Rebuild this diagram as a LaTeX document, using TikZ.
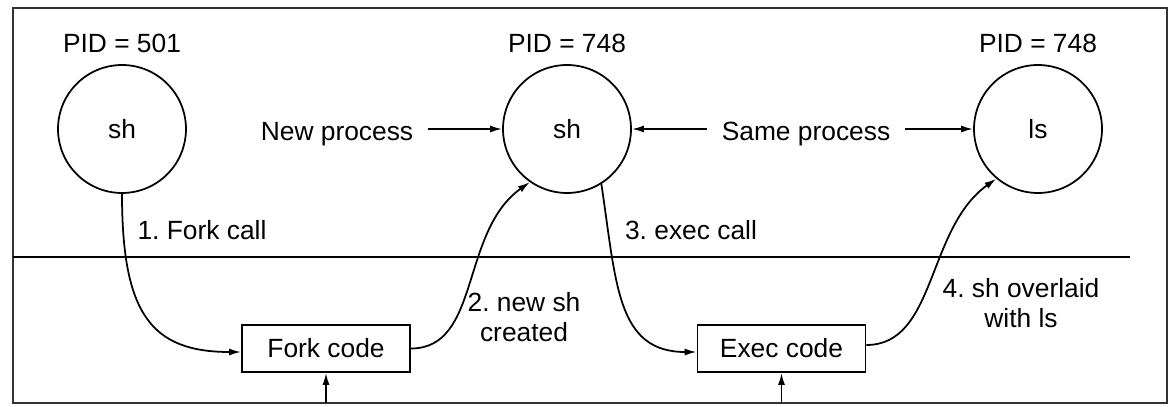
\documentclass[tikz,border=0pt]{standalone}
\usepackage{fontspec}
\setmainfont{Liberation Sans}
\usetikzlibrary{positioning,arrows.meta}

\tikzset{
    proc/.style={draw, circle, line width=1pt, minimum size=2.56cm, inner sep=0pt},
    codebox/.style={draw, rectangle, line width=1pt, minimum width=3.36cm, minimum height=0.94cm},
    flow/.style={line width=1pt, -{Latex[length=0.24cm, width=0.14cm]}},
    gap/.style={shorten <=0.22cm},
}

\begin{document}
\frenchspacing
\begin{tikzpicture}[x=0.02cm, y=0.02cm, inner sep=2pt, font=\fontsize{15}{17}\selectfont]
    % --- 画布与外框 ---
    \useasboundingbox (0, 0) rectangle (1170, 406);
    \draw[line width=1.1pt, black!80] (13, 3) rectangle (1167, 398);

    % 用户态 / 内核态 分隔线
    \draw[line width=1pt] (13, 149) -- (1130, 149);

    % --- 三个进程 ---
    \node[proc] (sh1) at (122, 277) {sh};
    \node[proc] (sh2) at (567, 277) {sh};
    \node[proc] (ls)  at (1038, 277) {ls};

    % 进程号标注
    \node[above=4pt of sh1] (pid1) {PID = 501};
    \node[above=4pt of sh2] (pid2) {PID = 748};
    \node[above=4pt of ls]  (pid3) {PID = 748};

    % --- 中间的说明文字和水平箭头 ---
    \node[anchor=base] (newproc) at (337, 265) {New process};
    \node[anchor=base] (samep)   at (806, 265) {Same process};
    \draw[flow, gap] (newproc.east |- sh2.west) -- (sh2.west);
    \draw[flow, gap] (samep.west |- sh2.east) -- (sh2.east);
    \draw[flow, gap] (samep.east |- ls.west) -- (ls.west);

    % --- 内核中的代码块 ---
    \node[codebox] (fork) at (326, 57.5) {Fork code};
    \node[codebox] (exec) at (781.5, 57.5) {Exec code};

    % 从下方进入代码块的箭头
    \coordinate (forkin) at (fork.south |- 0, 3);
    \coordinate (execin) at (exec.south |- 0, 3);
    \draw[flow] (forkin) -- (fork.south);
    \draw[flow] (execin) -- (exec.south);

    % --- 系统调用曲线 ---
    % 1: sh -> Fork code
    \draw[flow] (sh1.south) .. controls +(0, -120) and +(-90, 0) .. ([yshift=-2pt]fork.west);
    % 2: Fork code -> 新的 sh
    \draw[flow] (fork.east) .. controls +(70, 0) and +(-70, -50) .. (sh2.235);
    % 3: sh -> Exec code
    \draw[flow] (sh2.302) .. controls +(15, -100) and +(-80, 0) .. ([yshift=-2pt]exec.west);
    % 4: Exec code -> ls
    \draw[flow] ([yshift=2pt]exec.east) .. controls +(70, 0) and +(-70, -50) .. (ls.230);

    % --- 曲线旁的步骤说明 ---
    \node[anchor=base] (step1) at (202, 166) {1. Fork call};
    \node[align=center] (step2) at (524, 88.5) {2. new sh\\created};
    \node[anchor=base] (step3) at (691, 166) {3. exec call};
    \node[align=center] (step4) at (1021, 103) {4. sh overlaid\\with ls};

\end{tikzpicture}
\end{document}
